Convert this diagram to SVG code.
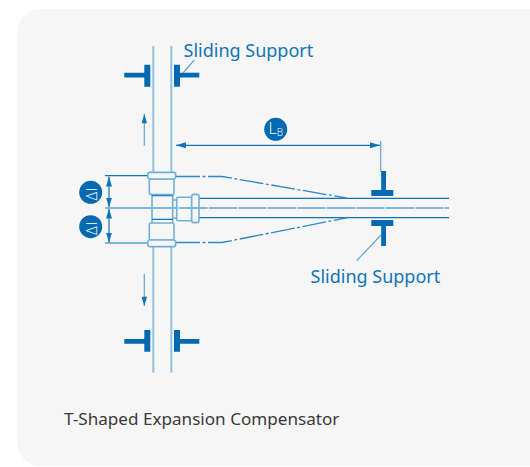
<svg xmlns="http://www.w3.org/2000/svg" width="530" height="467" viewBox="0 0 530 467">
<style>
.lbl{font-family:"Noto Sans","Open Sans",sans-serif;font-size:18px;fill:#0f75b8}
.cap{font-family:"Noto Sans","Open Sans",sans-serif;font-size:17.1px;fill:#3a3a3a}
.sym{font-family:"Open Sans","Noto Sans",sans-serif;font-weight:300;fill:#fff}
.pipe{fill:none;stroke:#8fc1e1;stroke-width:2}
.fit{fill:#f6f6f6;stroke:#6fb0da;stroke-width:1.6}
.dark{fill:none;stroke:#0f75b8;stroke-width:1.2}
.light{fill:none;stroke:#5fa6d6;stroke-width:1.2}
.dd{fill:none;stroke:#2f88c4;stroke-width:1.3;stroke-dasharray:24 2.5 3 2.5}
.ctr{fill:none;stroke:#7db6dc;stroke-width:1.8}
.gap{fill:none;stroke:#d4e6f2;stroke-width:2;stroke-dasharray:1.5 28}
.sup{fill:#0369b1}
.bub{fill:#0369b1}
</style>
<defs>
<marker id="ah" viewBox="0 0 10 6" refX="10" refY="3" markerWidth="10" markerHeight="6" markerUnits="userSpaceOnUse" orient="auto-start-reverse"><path d="M0 0L10 3L0 6z" fill="#0f75b8"/></marker>
<marker id="ahs" viewBox="0 0 10 6" refX="10" refY="3" markerWidth="10" markerHeight="5.5" markerUnits="userSpaceOnUse" orient="auto"><path d="M0 0L10 3L0 6z" fill="#0f75b8"/></marker>
</defs>
<rect width="530" height="467" fill="#fff"/>
<rect x="17" y="9" width="540" height="457" rx="24" fill="#f6f6f6"/>
<g id="connectors">
<path class="pipe" d="M153.3 46V372.5M171.3 46V372.5"/>
<path class="dark" d="M199 198.3H449M199 217.6H449"/>
<path class="dd" d="M176 176.5H222L346.5 198"/>
<path class="dd" d="M176 242.5H222L348 217.5"/>
<path class="dark" d="M105 175.7H148M105 243H148"/>
<path class="dark" marker-start="url(#ah)" marker-end="url(#ah)" d="M109 176.5V207.5"/>
<path class="dark" marker-start="url(#ah)" marker-end="url(#ah)" d="M109 208.5V242.5"/>
<path class="dark" marker-start="url(#ah)" marker-end="url(#ah)" d="M176 145.3H380"/>
<path class="light" d="M380.7 141V172"/>
<path class="light" d="M144.3 145.7V114" marker-end="url(#ahs)"/>
<path class="light" d="M144.3 274V306" marker-end="url(#ahs)"/>
<path class="light" d="M194.3 60L183 73"/>
<path class="light" d="M381 235L356.7 260.7"/>
</g>
<g id="tee-fitting">
<rect class="fit" x="152" y="194" width="20.7" height="30"/>
<path class="dark" d="M152 195.7H172.7M152 219.3H172.7"/>
<rect class="fit" x="149.3" y="179" width="24.7" height="15.5" rx="1.5"/>
<rect class="fit" x="149.3" y="223" width="24.7" height="17" rx="1.5"/>
<rect class="fit" x="147.8" y="172.4" width="27.8" height="6.6" rx="2"/>
<rect class="fit" x="147.8" y="240" width="27.8" height="6.6" rx="2"/>
<path class="fit" d="M172.7 200H176.7M172.7 218H176.7"/>
<rect class="fit" x="176.7" y="197.3" width="15" height="23.4" rx="1.5"/>
<rect class="fit" x="191.7" y="194.4" width="7.3" height="28.2" rx="2"/>
</g>
<g id="centerline">
<path class="ctr" d="M105 208H449"/>
<path class="gap" d="M178 208H449"/>
</g>
<g id="support-top-left"><path class="sup" d="M124.3 72.7H144.3V64.7H150.3V86.7H144.3V77.4H124.3z"/></g>
<g id="support-top-right"><path class="sup" d="M199.3 72.7H180V64.7H174V86.7H180V77.4H199.3z"/></g>
<g id="support-bottom-left"><path class="sup" d="M124.3 339H144.3V330H150.3V351.7H144.3V343.7H124.3z"/></g>
<g id="support-bottom-right"><path class="sup" d="M199.3 339H180V330H174V351.7H180V343.7H199.3z"/></g>
<g id="support-branch-top"><path class="sup" d="M381.2 171H386V190H393.3V196H371.3V190H381.2z"/></g>
<g id="support-branch-bottom"><path class="sup" d="M371.3 220H393.3V226H386V246H381.2V226H371.3z"/></g>
<g id="bubble-dl-top"><circle class="bub" cx="90.7" cy="192.3" r="11.5"/><text class="sym" transform="translate(96.8 200.5) rotate(-90)" font-size="15" letter-spacing="1">Δl</text></g>
<g id="bubble-dl-bottom"><circle class="bub" cx="90.7" cy="226.7" r="11.5"/><text class="sym" transform="translate(96.8 234.9) rotate(-90)" font-size="15" letter-spacing="1">Δl</text></g>
<g id="bubble-lb"><circle class="bub" cx="275.7" cy="129.3" r="11.5"/><text class="sym" x="268.5" y="133.5" font-size="16">L<tspan font-size="10" dy="2.5">B</tspan></text></g>
<g id="label-top"><text class="lbl" x="183.5" y="57">Sliding Support</text></g>
<g id="label-bottom"><text class="lbl" x="310.5" y="283">Sliding Support</text></g>
<g id="caption"><text class="cap" x="64" y="424.5">T-Shaped Expansion Compensator</text></g>
</svg>
